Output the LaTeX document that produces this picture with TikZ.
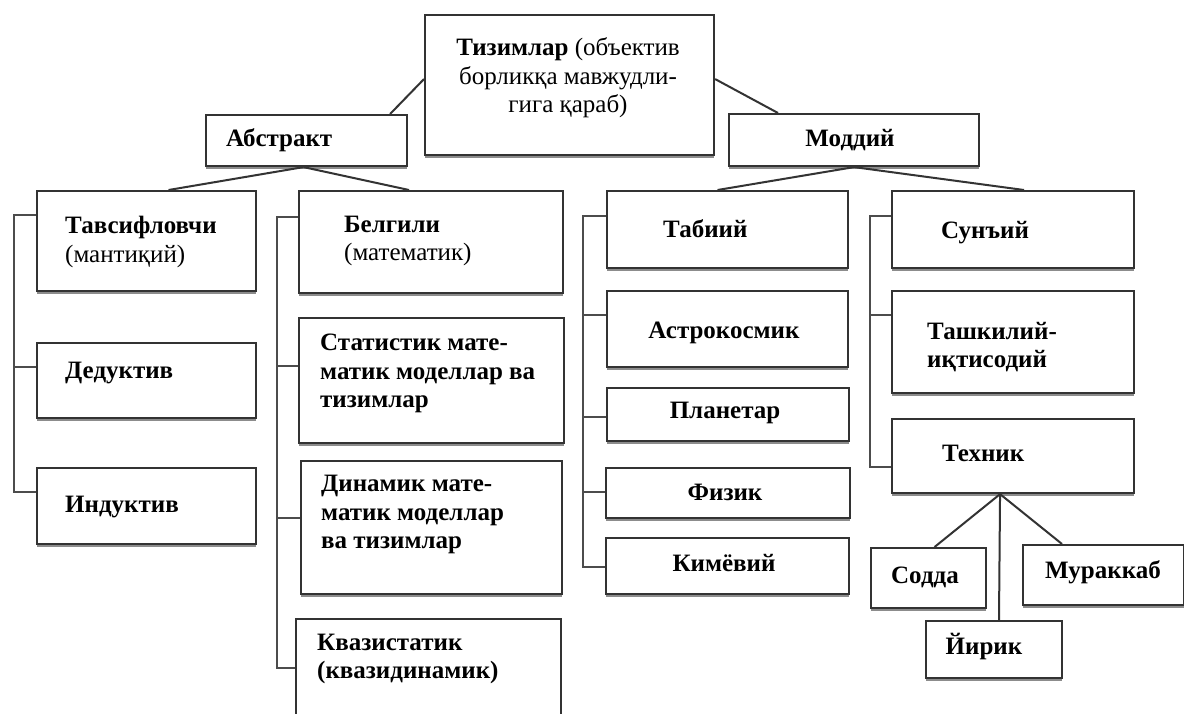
\documentclass[tikz,border=0pt]{standalone}
\usepackage{fontspec}
\setmainfont{Liberation Serif}
\usetikzlibrary{calc,shadows}
\begin{document}
\begin{tikzpicture}[x=1pt,y=-1pt,
  box/.style={draw=black!80, line width=2.1pt, fill=white, inner sep=0pt, anchor=north west,
    drop shadow={shadow xshift=0pt, shadow yshift=-2.5pt, fill=black!45, opacity=1}},
  txt/.style={inner sep=0pt, align=left, anchor=west, font=\fontsize{25}{28.5}\selectfont},
  ctxt/.style={txt, align=center, anchor=center},
  br/.style={draw=black!70, line width=2.5pt},
  conn/.style={draw=black!80, line width=2pt}]
\clip (0,0) rectangle (1184,713);
\fill[white] (0,0) rectangle (1184,713);
% boxes
\node[box, minimum width=289pt, minimum height=140pt] (top) at (424,14) {};
\node[box, minimum width=201pt, minimum height=51pt] (abs) at (205,114) {};
\node[box, minimum width=250pt, minimum height=52pt] (mod) at (728,113) {};
\node[box, minimum width=219pt, minimum height=100pt] (tav) at (36,190) {};
\node[box, minimum width=219pt, minimum height=75pt] (ded) at (36,342) {};
\node[box, minimum width=219pt, minimum height=76pt] (ind) at (36,467) {};
\node[box, minimum width=264pt, minimum height=102pt] (bel) at (298,190) {};
\node[box, minimum width=265pt, minimum height=125pt] (stat) at (298,317) {};
\node[box, minimum width=261pt, minimum height=133pt] (din) at (300,460) {};
\node[box, minimum width=265pt, minimum height=110pt] (kva) at (295,618) {};
\node[box, minimum width=241pt, minimum height=77pt] (tab) at (606,190) {};
\node[box, minimum width=241pt, minimum height=76pt] (ast) at (606,290) {};
\node[box, minimum width=242pt, minimum height=53pt] (pla) at (606,387) {};
\node[box, minimum width=244pt, minimum height=50pt] (fiz) at (605,467) {};
\node[box, minimum width=243pt, minimum height=56pt] (kim) at (605,537) {};
\node[box, minimum width=242pt, minimum height=77pt] (sun) at (891,190) {};
\node[box, minimum width=242pt, minimum height=102pt] (tash) at (891,290) {};
\node[box, minimum width=242pt, minimum height=74pt] (tex) at (891,418) {};
\node[box, minimum width=115pt, minimum height=60pt] (sod) at (870,547) {};
\node[box, minimum width=161pt, minimum height=60pt] (mur) at (1022,544) {};
\node[box, minimum width=136pt, minimum height=57pt] (yir) at (925,620) {};
% texts
\node[ctxt] (top-t) at (568,78) {\textbf{Тизимлар} (объектив\\борликқа мавжудли-\\гига қараб)};
\node[txt] (abs-t) at (226,140) {\textbf{Абстракт}};
\node[ctxt] (mod-t) at (850,140) {\textbf{Моддий}};
\node[txt] (tav-t) at (65,242) {\textbf{Тавсифловчи}\\(мантиқий)};
\node[txt] (ded-t) at (65,373) {\textbf{Дедуктив}};
\node[txt] (ind-t) at (65,507) {\textbf{Индуктив}};
\node[txt] (bel-t) at (344,241) {\textbf{Белгили}\\(математик)};
\node[txt, font=\fontsize{25}{28.5}\selectfont\bfseries] (stat-t) at (320,373.5) {Статистик мате-\\матик моделлар ва\\тизимлар};
\node[txt, font=\fontsize{25}{28.5}\selectfont\bfseries] (din-t) at (321,514.5) {Динамик мате-\\матик моделлар\\ва тизимлар};
\node[txt, font=\fontsize{25}{28.5}\selectfont\bfseries] (kva-t) at (317,659) {Квазистатик\\(квазидинамик)};
\node[txt] (tab-t) at (663,229) {\textbf{Табиий}};
\node[ctxt] (ast-t) at (724,333) {\textbf{Астрокосмик}};
\node[ctxt] (pla-t) at (725,413) {\textbf{Планетар}};
\node[ctxt] (fiz-t) at (725,492) {\textbf{Физик}};
\node[ctxt] (kim-t) at (724,563) {\textbf{Кимёвий}};
\node[txt] (sun-t) at (941,233) {\textbf{Сунъий}};
\node[txt, font=\fontsize{25}{28.5}\selectfont\bfseries] (tash-t) at (927,347) {Ташкилий-\\иқтисодий};
\node[txt] (tex-t) at (942,453) {\textbf{Техник}};
\node[ctxt] (sod-t) at (925,577) {\textbf{Содда}};
\node[ctxt] (mur-t) at (1103,572) {\textbf{Мураккаб}};
\node[ctxt] (yir-t) at (984,647) {\textbf{Йирик}};
% tree connectors
\draw[conn] ([yshift=6pt]top.west) -- ([xshift=-18pt]abs.north east);
\draw[conn] ([yshift=6pt]top.east) -- ([xshift=50pt]mod.north west);
\draw[conn] ([xshift=-3pt]abs.south) -- ([xshift=22pt]tav.north);
\draw[conn] ([xshift=-3pt]abs.south) -- ([xshift=-22pt]bel.north);
\draw[conn] (mod.south) -- ([xshift=-10pt]tab.north);
\draw[conn] (mod.south) -- ([xshift=11pt]sun.north);
\draw[conn] ([xshift=-13pt]tex.south) -- ([xshift=6pt]sod.north);
\draw[conn] ([xshift=-13pt]tex.south) -- ([xshift=40pt]mur.north west);
\draw[conn] ([xshift=-13pt]tex.south) -- ([xshift=74pt]yir.north west);
% bracket spines
\coordinate (spA) at (14,0);
\coordinate (spB) at (277,0);
\coordinate (spC) at (583,0);
\coordinate (spD) at (870,0);
\coordinate (s-tav) at ([yshift=-25pt]tav.north west);
\coordinate (s-ded) at ([yshift=-25pt]ded.north west);
\coordinate (s-ind) at ([yshift=-25pt]ind.north west);
\coordinate (s-bel) at ([yshift=-27pt]bel.north west);
\coordinate (s-stat) at ([yshift=-49pt]stat.north west);
\coordinate (s-din) at ([yshift=-58pt]din.north west);
\coordinate (s-kva) at ([yshift=-50pt]kva.north west);
\coordinate (s-tab) at ([yshift=-26pt]tab.north west);
\coordinate (s-ast) at ([yshift=-25pt]ast.north west);
\coordinate (s-pla) at ([yshift=-30pt]pla.north west);
\coordinate (s-fiz) at ([yshift=-25pt]fiz.north west);
\coordinate (s-kim) at ([yshift=-30pt]kim.north west);
\coordinate (s-sun) at ([yshift=-26pt]sun.north west);
\coordinate (s-tash) at ([yshift=-25pt]tash.north west);
\coordinate (s-tex) at ([yshift=-49pt]tex.north west);
\draw[br] (s-tav) -- (s-tav -| spA) |- (s-ind);
\draw[br] (s-ded) -- (s-ded -| spA);
\draw[br] (s-bel) -- (s-bel -| spB) |- (s-kva);
\draw[br] (s-stat) -- (s-stat -| spB);
\draw[br] (s-din) -- (s-din -| spB);
\draw[br] (s-tab) -- (s-tab -| spC) |- (s-kim);
\draw[br] (s-ast) -- (s-ast -| spC);
\draw[br] (s-pla) -- (s-pla -| spC);
\draw[br] (s-fiz) -- (s-fiz -| spC);
\draw[br] (s-sun) -- (s-sun -| spD) |- (s-tex);
\draw[br] (s-tash) -- (s-tash -| spD);
\end{tikzpicture}
\end{document}
